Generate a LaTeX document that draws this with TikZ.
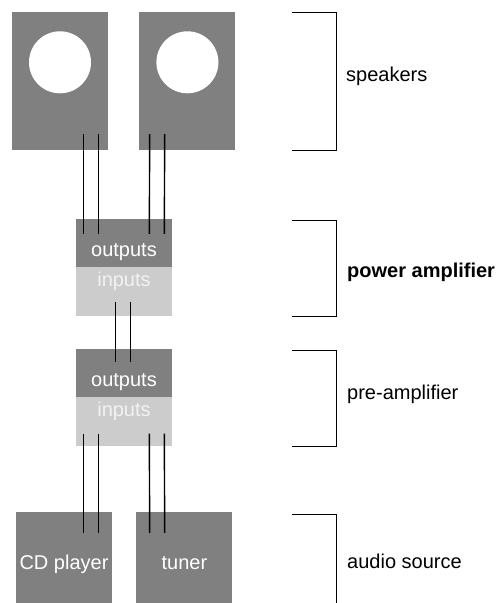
\documentclass[tikz,border=0pt]{standalone}
\usepackage{fontspec}
\setmainfont{Liberation Sans}
\usepackage{tikz}
\usetikzlibrary{calc, positioning}

\definecolor{boxdark}{HTML}{808080}
\definecolor{boxlight}{HTML}{CCCCCC}
\definecolor{intext}{HTML}{F2F2F2}

\begin{document}
\begin{tikzpicture}[x=1pt,y=-1pt,inner sep=0pt,node distance=0pt,
  font=\fontsize{20}{24}\selectfont,
  cabinet/.style={fill=boxdark,minimum width=96pt,minimum height=138pt},
  cone/.style={circle,fill=white,minimum size=62pt},
  outsect/.style={fill=boxdark,text=white,minimum width=96pt,text height=37.5pt,text depth=10.5pt},
  insect/.style={fill=boxlight,text=intext,minimum width=96pt,text height=19pt,text depth=30pt},
  srcbox/.style={fill=boxdark,text=white,minimum width=96pt,text height=57pt,text depth=34pt},
  wire/.style={line width=1.4pt},
  bracket/.style={line width=1pt}]
\useasboundingbox (0,0) rectangle (499,603);
% speakers
\draw node [cabinet] (S1) at (60,81) {};
\draw node [cabinet] [right=31pt of S1] (S2) {};
\draw node [cone] (C1) at ($ (S1.north) + (0,50.5) $) {};
\draw node [cone] (C2) at ($ (S2.north) + (0,50.5) $) {};
% power amplifier and pre-amplifier
\draw node [outsect] (P1) at (124,243) {outputs};
\draw node [insect] [below=of P1] (P2) {inputs};
\draw node [outsect] (A1) at (124,373) {outputs};
\draw node [insect] [below=of A1] (A2) {inputs};
% sources
\draw node [srcbox] (Q1) at (64,557.5) {CD player};
\draw node [srcbox] [right=24pt of Q1] (Q2) {tuner};
% cables
\draw [wire] ($ (S1.south) + (23.3,-16) $) -- ($ (P1.north) + (-40.7,15) $);
\draw [wire] ($ (S1.south) + (38.3,-16) $) -- ($ (P1.north) + (-25.7,15) $);
\draw [wire] ($ (S2.south) + (-37.7,-16) $) -- ($ (P1.north) + (25.3,15) $);
\draw [wire] ($ (S2.south) + (-22.7,-16) $) -- ($ (P1.north) + (40.3,15) $);
\draw [wire] ($ (P2.south) + (-8.3,-15) $) -- ($ (A1.north) + (-8.3,13) $);
\draw [wire] ($ (P2.south) + (6.7,-15) $) -- ($ (A1.north) + (6.7,13) $);
\draw [wire] ($ (A2.south) + (-40.7,-13) $) -- ($ (Q1.north) + (19.3,21) $);
\draw [wire] ($ (A2.south) + (-25.7,-13) $) -- ($ (Q1.north) + (34.3,21) $);
\draw [wire] ($ (A2.south) + (25.3,-13) $) -- ($ (Q2.north) + (-34.7,21) $);
\draw [wire] ($ (A2.south) + (40.3,-13) $) -- ($ (Q2.north) + (-19.7,21) $);
% brackets and their labels
\draw [bracket] (292,12) -| (336,150) -- (292,150);
\draw [bracket] (292,220.5) -| (336,316) -- (292,316);
\draw [bracket] (292,350.5) -| (336,446.5) -- (292,446.5);
\draw [bracket] (292,514) -| (336,603);
\draw node [anchor=base west] (L1) at (346,81) {speakers};
\draw node [anchor=base west,font=\fontsize{20}{24}\selectfont\bfseries] (L2) at (347,277) {power amplifier};
\draw node [anchor=base west] (L3) at (347,399) {pre-amplifier};
\draw node [anchor=base west] (L4) at (347,568) {audio source};
\end{tikzpicture}
\end{document}
